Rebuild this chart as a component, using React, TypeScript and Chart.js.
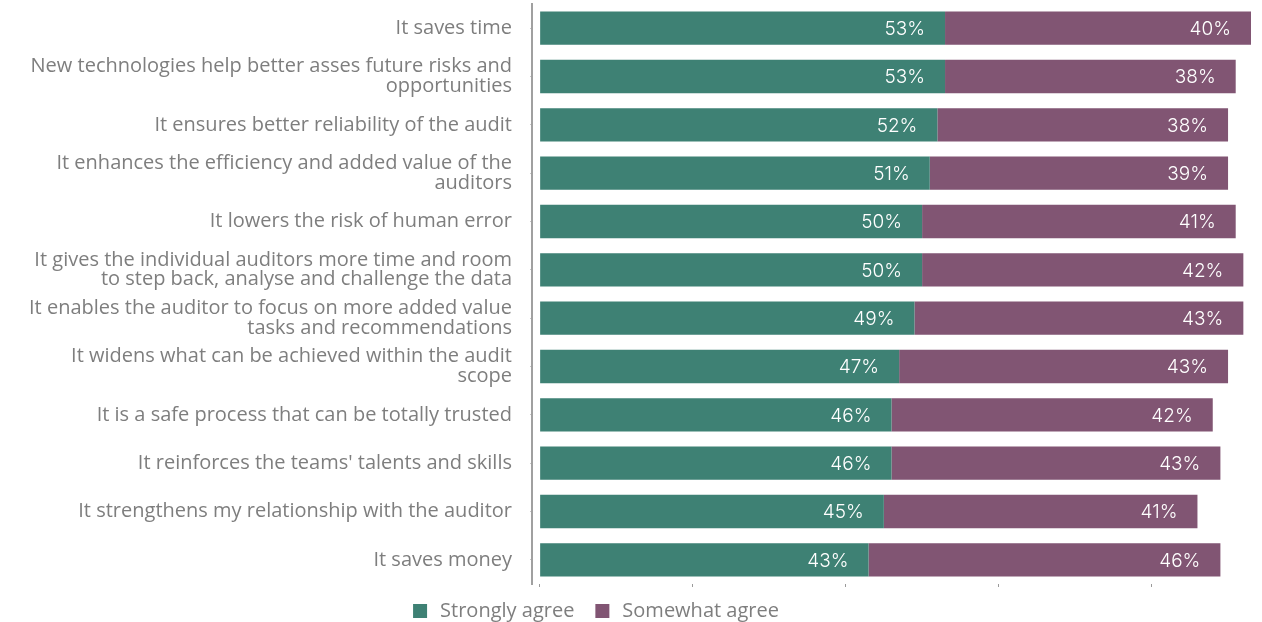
import React, { useEffect, useRef } from "react";
import { Chart, registerables } from "chart.js";

Chart.register(...registerables);

const categories: (string | string[])[] = [
  "It saves time",
  ["New technologies help better asses future risks and", "opportunities"],
  "It ensures better reliability of the audit",
  ["It enhances the efficiency and added value of the", "auditors"],
  "It lowers the risk of human error",
  ["It gives the individual auditors more time and room", "to step back, analyse and challenge the data"],
  ["It enables the auditor to focus on more added value", "tasks and recommendations"],
  ["It widens what can be achieved within the audit", "scope"],
  "It is a safe process that can be totally trusted",
  "It reinforces the teams' talents and skills",
  "It strengthens my relationship with the auditor",
  "It saves money",
];

const stronglyAgree = [53, 53, 52, 51, 50, 50, 49, 47, 46, 46, 45, 43];
const somewhatAgree = [40, 38, 38, 39, 41, 42, 43, 43, 42, 43, 41, 46];

const seriesLabels = ["Strongly agree", "Somewhat agree"];
const seriesColors = ["#3e8174", "#815573"];
const xTicks = [0, 20, 40, 60, 80];

const LABEL_FONT = "'Open Sans', sans-serif";
const VALUE_FONT = "Inter, sans-serif";
const GRAY = "#7e7e7e";

const valueLabels = {
  id: "valueLabels",
  afterDatasetsDraw(chart: any) {
    const ctx = chart.ctx;
    ctx.save();
    ctx.fillStyle = "#ffffff";
    ctx.font = `300 19px ${VALUE_FONT}`;
    ctx.textAlign = "right";
    ctx.textBaseline = "middle";
    chart.data.datasets.forEach((ds: any, di: number) => {
      const meta = chart.getDatasetMeta(di);
      meta.data.forEach((el: any, i: number) => {
        ctx.fillText(`${ds.data[i]}%`, el.x - 20, el.y + 1);
      });
    });
    ctx.restore();
  },
};

const customLegend = {
  id: "customLegend",
  afterDraw(chart: any) {
    const ctx = chart.ctx;
    ctx.save();
    ctx.font = `20px ${LABEL_FONT}`;
    ctx.textBaseline = "middle";
    const box = 14;
    const gapBoxText = 13;
    const gapItems = 21;
    const widths = chart.data.datasets.map(
      (ds: any) => box + gapBoxText + ctx.measureText(ds.label).width
    );
    const total = widths.reduce((a: number, b: number) => a + b, 0) + gapItems * (widths.length - 1);
    let x = 596 - total / 2;
    const y = 611;
    chart.data.datasets.forEach((ds: any, i: number) => {
      ctx.fillStyle = ds.backgroundColor;
      ctx.fillRect(x, y - box / 2, box, box);
      ctx.fillStyle = GRAY;
      ctx.textAlign = "left";
      ctx.fillText(ds.label, x + box + gapBoxText, y);
      x += widths[i] + gapItems;
    });
    ctx.restore();
  },
};

export default function App() {
  const ref = useRef<HTMLCanvasElement>(null);
  useEffect(() => {
    if (!ref.current) return;
    const chart = new Chart(ref.current, {
      type: "bar",
      data: {
        labels: categories,
        datasets: [
          {
            label: seriesLabels[0],
            data: stronglyAgree,
            backgroundColor: seriesColors[0],
            barPercentage: 0.69,
            categoryPercentage: 1,
          },
          {
            label: seriesLabels[1],
            data: somewhatAgree,
            backgroundColor: seriesColors[1],
            barPercentage: 0.69,
            categoryPercentage: 1,
          },
        ],
      },
      options: {
        indexAxis: "y",
        animation: false,
        responsive: true,
        maintainAspectRatio: false,
        layout: { padding: { top: 4, right: 11, bottom: 35, left: 0 } },
        plugins: {
          legend: { display: false },
          tooltip: { enabled: false },
        },
        scales: {
          x: {
            stacked: true,
            min: -1,
            max: 93,
            afterBuildTicks: (scale: any) => {
              scale.ticks = xTicks.map((v) => ({ value: v }));
            },
            ticks: { display: false },
            border: { display: false },
            grid: {
              display: true,
              drawOnChartArea: false,
              drawTicks: true,
              tickLength: 3,
              color: "#9a9a9a",
              lineWidth: 1,
            },
          },
          y: {
            stacked: true,
            afterFit: (scale: any) => {
              scale.width = 532;
              scale.paddingTop = 0;
              scale.paddingBottom = 0;
            },
            border: { display: true, color: "#a0a0a0", width: 2 },
            grid: {
              display: true,
              offset: false,
              drawOnChartArea: false,
              drawTicks: true,
              tickLength: 2,
              color: "#c8c8c8",
              lineWidth: 1,
            },
            ticks: {
              padding: 18,
              color: GRAY,
              font: { family: LABEL_FONT, size: 20, lineHeight: 0.98 },
            },
          },
        },
      },
      plugins: [valueLabels, customLegend],
    });
    return () => chart.destroy();
  }, []);
  return (
    <div style={{ position: "absolute", left: 0, top: 0, width: 1262, height: 622 }}>
      <canvas ref={ref} />
    </div>
  );
}
